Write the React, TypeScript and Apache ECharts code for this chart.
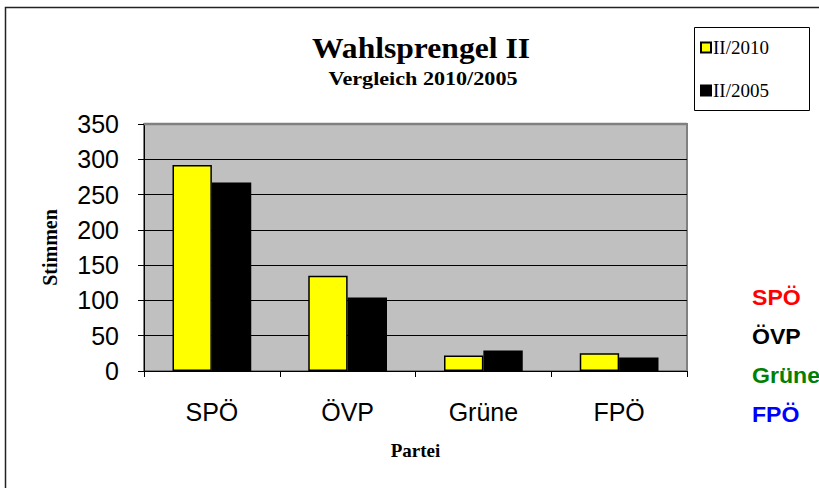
import React, { useEffect, useRef } from "react";
import * as echarts from "echarts";

const categories = ["SPÖ", "ÖVP", "Grüne", "FPÖ"];
const series2010 = [292, 135, 22, 25];
const series2005 = [267, 104, 29, 19];
const seriesNames = ["II/2010", "II/2005"];
const yTicks = { min: 0, max: 350, interval: 50 };
const sideLabels = ["SPÖ", "ÖVP", "Grüne", "FPÖ"];
const sideColors = ["#FF0000", "#000000", "#008000", "#0000FF"];

export default function App() {
  const ref = useRef<HTMLDivElement>(null);
  useEffect(() => {
    if (!ref.current) return;
    const chart = echarts.init(ref.current, undefined, { renderer: "svg" });
    const serif = "'Liberation Serif', 'Times New Roman', serif";
    const sans = "'Liberation Sans', Arial, sans-serif";
    chart.setOption({
      animation: false,
      backgroundColor: "#ffffff",
      grid: {
        left: 144,
        top: 124,
        width: 543,
        height: 247,
        show: true,
        backgroundColor: "#C0C0C0",
        borderColor: "#808080",
        borderWidth: 2,
        containLabel: false,
      },
      legend: {
        orient: "vertical",
        left: 695,
        top: 33,
        itemGap: 24,
        itemWidth: 10,
        itemHeight: 10,
        itemStyle: { borderWidth: 2 },
        icon: "rect",
        textStyle: { fontFamily: serif, fontSize: 19, color: "#000", padding: [0, 0, 0, -3] },
        data: seriesNames,
      },
      xAxis: {
        type: "category",
        data: categories,
        name: "Partei",
        nameLocation: "middle",
        nameGap: 70,
        nameTextStyle: { fontFamily: serif, fontWeight: "bold", fontSize: 19, color: "#000" },
        axisLine: { show: true, lineStyle: { color: "#000", width: 1 } },
        axisTick: { show: true, length: 6, alignWithLabel: false, lineStyle: { color: "#000" } },
        axisLabel: { fontFamily: sans, fontSize: 25, color: "#000", margin: 28 },
        splitLine: { show: false },
      },
      yAxis: {
        type: "value",
        min: yTicks.min,
        max: yTicks.max,
        interval: yTicks.interval,
        name: "Stimmen",
        nameLocation: "middle",
        nameGap: 84,
        nameRotate: 90,
        nameTextStyle: { fontFamily: serif, fontWeight: "bold", fontSize: 20, color: "#000" },
        axisLine: { show: true, lineStyle: { color: "#000", width: 1 } },
        axisTick: { show: true, length: 6, lineStyle: { color: "#000" } },
        axisLabel: { fontFamily: sans, fontSize: 25, color: "#000", margin: 25 },
        splitLine: { show: true, lineStyle: { color: "#000", width: 1 } },
      },
      series: [
        {
          name: seriesNames[0],
          type: "bar",
          data: series2010,
          barGap: "0%",
          barCategoryGap: "42%",
          itemStyle: { color: "#FFFF00", borderColor: "#000", borderWidth: 1.5 },
        },
        {
          name: seriesNames[1],
          type: "bar",
          data: series2005,
          barGap: "0%",
          barCategoryGap: "42%",
          itemStyle: { color: "#000000", borderColor: "#000", borderWidth: 1.5 },
        },
      ],
      graphic: [
        {
          type: "rect",
          z: 100,
          silent: true,
          shape: { x: 5.5, y: 7.5, width: 900, height: 600 },
          style: { fill: "none", stroke: "#222", lineWidth: 1.5 },
        },
        {
          type: "line",
          z: 100,
          silent: true,
          shape: { x1: 144, y1: 124, x2: 687, y2: 124 },
          style: { stroke: "#808080", lineWidth: 2.5 },
        },
        {
          type: "rect",
          z: 100,
          silent: true,
          shape: { x: 694.5, y: 27.5, width: 115, height: 83 },
          style: { fill: "none", stroke: "#000", lineWidth: 1 },
        },
        {
          type: "text",
          z: 100,
          x: 421,
          y: 48,
          style: {
            text: "Wahlsprengel II",
            fontFamily: serif,
            fontWeight: "bold",
            fontSize: 29,
            fill: "#000",
            align: "center",
            verticalAlign: "middle",
          },
          scaleX: 1.09,
        },
        {
          type: "text",
          z: 100,
          x: 423,
          y: 79,
          style: {
            text: "Vergleich 2010/2005",
            fontFamily: serif,
            fontWeight: "bold",
            fontSize: 18,
            fill: "#000",
            align: "center",
            verticalAlign: "middle",
          },
          scaleX: 1.23,
        },
        ...sideLabels.map((t, i) => ({
          type: "text",
          z: 100,
          x: 752,
          y: 298 + i * 39,
          style: {
            text: t,
            fontFamily: sans,
            fontWeight: "bold",
            fontSize: 22,
            fill: sideColors[i],
            align: "left",
            verticalAlign: "middle",
          },
          scaleX: 1.05,
        })),
      ],
    });
    return () => chart.dispose();
  }, []);
  return (
    <div
      ref={ref}
      style={{ position: "fixed", left: 0, top: 0, width: 819, height: 488 }}
    />
  );
}
